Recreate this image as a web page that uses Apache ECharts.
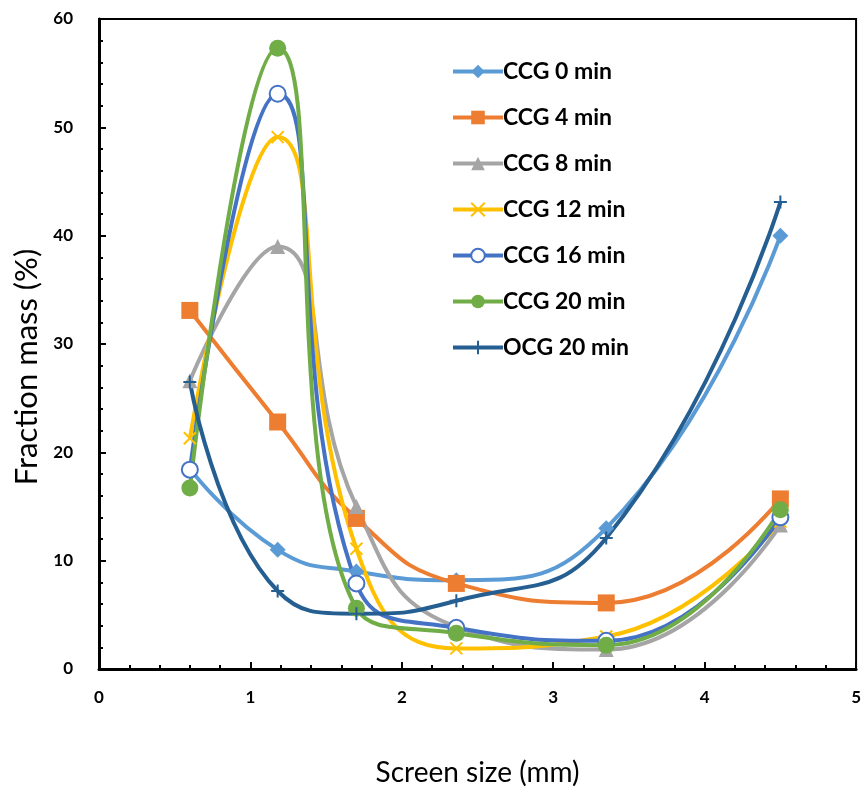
<!DOCTYPE html>
<html>
<head>
<meta charset="utf-8">
<script src="https://cdn.jsdelivr.net/npm/echarts@6/dist/echarts.min.js"></script>
<style>
  html, body { margin: 0; padding: 0; background: #fff; }
  #chart { width: 864px; height: 792px; }
</style>
</head>
<body>
<div id="chart"></div>
<script>
// screen sizes (mm)
let screenSizes = [0.6, 1.18, 1.7, 2.36, 3.35, 4.5];

let ccg0  = [18.5, 11.0, 9.0, 8.2, 13.0, 40.0];
let ccg4  = [33.1, 22.8, 13.9, 7.9, 6.1, 15.7];
let ccg8  = [26.6, 39.0, 15.0, 3.9, 1.8, 13.3];
let ccg12 = [21.3, 49.1, 11.1, 1.9, 3.0, 13.6];
let ccg16 = [18.4, 53.1, 7.9, 3.8, 2.6, 14.0];
let ccg20 = [16.7, 57.3, 5.6, 3.3, 2.2, 14.7];
let ocg20 = [26.5, 7.2, 5.1, 6.3, 12.1, 43.1];

let seriesNames = ['CCG 0 min', 'CCG 4 min', 'CCG 8 min', 'CCG 12 min', 'CCG 16 min', 'CCG 20 min', 'OCG 20 min'];

const FONT = 'Lato';

function pairs(vals) {
    let temp = [];
    for (let i = 0; i < screenSizes.length; i++) {
        temp.push([screenSizes[i], vals[i]]);
    }
    return temp;
}

function makeLine(name, vals, color, symbol, size, extra) {
    let s = {
        name: name,
        type: 'line',
        smooth: 0.5,
        data: pairs(vals),
        symbol: symbol,
        symbolSize: size,
        lineStyle: {color: color, width: 4},
        itemStyle: {color: color},
        emphasis: {disabled: true}
    };
    return Object.assign(s, extra || {});
}

let xMark = 'path://M0,0L10,10M10,0L0,10';
let plusMark = 'path://M5,0L5,10M0,5L10,5';

let myChart = echarts.init(document.getElementById('chart'));
myChart.setOption({
    animation: false,
    grid: {
        left: 99, right: 7, top: 19, bottom: 121,
        show: true, borderColor: '#000', borderWidth: 2, backgroundColor: '#fff'
    },
    legend: {
        orient: 'vertical',
        left: 446, top: 55,
        itemWidth: 50, itemHeight: 17,
        itemGap: 23,
        data: seriesNames,
        lineStyle: {width: 4},
        textStyle: {fontFamily: FONT, fontSize: 23, fontWeight: 'bold', color: '#000', padding: [0, 0, 0, -5]}
    },
    xAxis: {
        type: 'value', min: 0, max: 5, interval: 1,
        name: 'Screen size (mm)', nameLocation: 'middle', nameGap: 90,
        nameTextStyle: {fontFamily: FONT, fontSize: 28, fontWeight: 'normal', color: '#000'},
        axisLine: {lineStyle: {color: '#000', width: 3}},
        axisTick: {inside: true, length: 7, lineStyle: {color: '#000', width: 2}},
        minorTick: {show: true, splitNumber: 5, length: 4, lineStyle: {color: '#000', width: 2}},
        splitLine: {show: false},
        axisLabel: {fontFamily: FONT, fontSize: 17, fontWeight: 'bold', color: '#000', margin: 20}
    },
    yAxis: {
        type: 'value', min: 0, max: 60, interval: 10,
        name: 'Fraction mass (%)', nameLocation: 'middle', nameGap: 55, nameRotate: 90,
        nameTextStyle: {fontFamily: FONT, fontSize: 31, fontWeight: 'normal', color: '#000', padding: [0, 46, 0, 0]},
        axisLine: {show: true, lineStyle: {color: '#000', width: 3}},
        axisTick: {show: true, inside: true, length: 7, lineStyle: {color: '#000', width: 2}},
        minorTick: {show: true, splitNumber: 5, length: 4, lineStyle: {color: '#000', width: 2}},
        splitLine: {show: false},
        axisLabel: {fontFamily: FONT, fontSize: 17, fontWeight: 'bold', color: '#000', margin: 26}
    },
    series: [
        makeLine('CCG 0 min', ccg0, '#5B9BD5', 'diamond', 16),
        makeLine('CCG 4 min', ccg4, '#ED7D31', 'rect', 17),
        makeLine('CCG 8 min', ccg8, '#A5A5A5', 'triangle', 15),
        makeLine('CCG 12 min', ccg12, '#FFC000', xMark, 12,
            {itemStyle: {color: '#FFC000', borderColor: '#FFC000', borderWidth: 2}}),
        makeLine('CCG 16 min', ccg16, '#4472C4', 'emptyCircle', 16,
            {itemStyle: {color: '#4472C4', borderColor: '#4472C4', borderWidth: 2}}),
        makeLine('CCG 20 min', ccg20, '#70AD47', 'circle', 17),
        makeLine('OCG 20 min', ocg20, '#255E91', plusMark, 13,
            {itemStyle: {color: '#255E91', borderColor: '#255E91', borderWidth: 2}})
    ]
});
</script>
</body>
</html>
